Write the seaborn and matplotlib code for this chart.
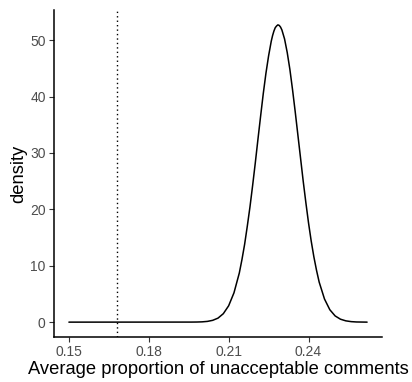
import matplotlib
matplotlib.use("Agg")
import matplotlib.pyplot as plt
import seaborn as sns
import pandas as pd

# Density curve
prop = [0.150, 0.196, 0.198, 0.200, 0.202, 0.204, 0.206, 0.208, 0.210, 0.212,
        0.214, 0.215, 0.216, 0.217, 0.218, 0.219, 0.220, 0.221, 0.222, 0.223,
        0.224, 0.225, 0.226, 0.2265, 0.227, 0.2275, 0.228, 0.2285, 0.229, 0.2295,
        0.230, 0.231, 0.232, 0.233, 0.234, 0.235, 0.236, 0.237, 0.238, 0.239,
        0.240, 0.241, 0.242, 0.243, 0.244, 0.246, 0.248, 0.250, 0.252, 0.254,
        0.256, 0.258, 0.262]
density = [0.0, 0.01, 0.02, 0.05, 0.13, 0.32, 0.71, 1.5, 2.9, 5.2,
           8.7, 11.1, 13.8, 17.0, 20.4, 24.2, 28.2, 32.4, 36.5, 40.5,
           44.1, 47.2, 49.8, 50.8, 51.6, 52.2, 52.5, 52.7, 52.6, 52.3,
           51.8, 50.2, 47.8, 44.8, 41.2, 37.3, 33.2, 29.1, 25.0, 21.2,
           17.6, 14.4, 11.6, 9.2, 7.1, 4.1, 2.2, 1.1, 0.52, 0.23,
           0.09, 0.03, 0.0]
observed = 0.168
x_ticks = [0.15, 0.18, 0.21, 0.24]
x_tick_labels = ["0.15", "0.18", "0.21", "0.24"]
y_ticks = [0, 10, 20, 30, 40, 50]

df = pd.DataFrame({"prop": prop, "density": density})

sns.set_theme(style="white")
plt.rcParams["font.family"] = ["Liberation Sans", "DejaVu Sans"]

fig = plt.figure(figsize=(4.12, 3.82), dpi=100)
ax = fig.add_axes([54 / 412, 45 / 382, 328 / 412, 327 / 382])

sns.lineplot(data=df, x="prop", y="density", ax=ax, color="black", linewidth=1.1)
ax.axvline(observed, color="black", linestyle=(0, (1, 2.2)), linewidth=1.0)

xmin, xmax = 0.150, 0.262
xpad = (xmax - xmin) * 0.05
ax.set_xlim(xmin - xpad, xmax + xpad)
ymax = 52.7
ax.set_ylim(-ymax * 0.05, ymax * 1.05)

ax.set_xticks(x_ticks)
ax.set_xticklabels(x_tick_labels)
ax.set_yticks(y_ticks)
ax.tick_params(axis="both", which="both", length=3.5, width=0.8, color="#333333",
               labelsize=10, labelcolor="#4D4D4D", pad=2.5, direction="out",
               bottom=True, left=True)

for side in ["top", "right"]:
    ax.spines[side].set_visible(False)
for side in ["left", "bottom"]:
    ax.spines[side].set_color("black")
    ax.spines[side].set_linewidth(1.1)

ax.set_xlabel("Average proportion of unacceptable comments", fontsize=13.2,
              color="black", labelpad=1)
ax.set_ylabel("density", fontsize=13.2, color="black", labelpad=2)

fig.savefig("out.png", dpi=100)
